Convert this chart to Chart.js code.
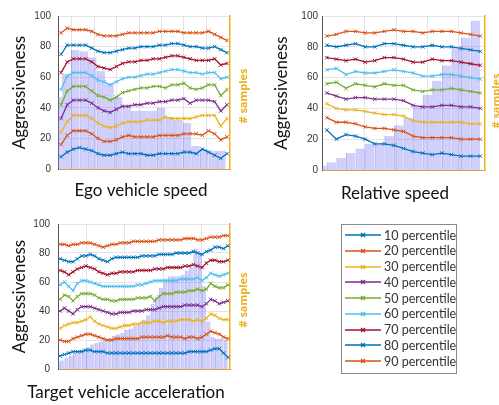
<!DOCTYPE html>
<html>
<head>
<meta charset="utf-8">
<title>Aggressiveness percentiles</title>
<script src="https://cdn.jsdelivr.net/npm/chart.js@4.4.2/dist/chart.umd.min.js"></script>
<style>
    html, body { margin: 0; padding: 0; background: #fff; }
    #page { position: relative; width: 499px; height: 405px; overflow: hidden; }
    #page > canvas { position: absolute; }
    #legend { position: absolute; left: 341px; top: 224px; width: 116px; height: 150px;
              box-sizing: border-box; border: 1px solid #8a8a8a; background: #fff; }
    .item { position: absolute; left: 3px; height: 16px; display: flex; align-items: center;
            font: 12.5px Lato, sans-serif; color: #333; white-space: nowrap; }
    .item canvas { margin-right: 3px; }
</style>
</head>
<body>
<div id="page">
    <canvas id="egoChart" width="250" height="205" style="left:0;top:0"></canvas>
    <canvas id="relChart" width="249" height="205" style="left:250px;top:0"></canvas>
    <canvas id="accChart" width="250" height="195" style="left:0;top:210px"></canvas>
    <div id="legend"></div>
</div>
<script>
// series names + colours (MATLAB default order, wraps after 7)
const seriesNames = ['10 percentile', '20 percentile', '30 percentile', '40 percentile', '50 percentile',
                     '60 percentile', '70 percentile', '80 percentile', '90 percentile'];
const seriesColors = ['#0072BD', '#D95319', '#EDB120', '#7E2F8E', '#77AC30', '#4DBEEE', '#A2142F', '#0072BD', '#D95319'];

// Ego vehicle speed
const egoP10 = [8, 11, 13, 14, 13, 12, 10, 9, 9, 10, 11, 10, 10, 10, 9, 9, 10, 10, 10, 10, 11, 11, 10, 13, 11, 9, 7, 10];
const egoP20 = [16, 22, 25, 25, 25, 23, 20, 18, 18, 19, 21, 22, 21, 21, 21, 21, 22, 22, 22, 22, 23, 23, 23, 22, 25, 23, 19, 21];
const egoP30 = [24, 31, 35, 35, 35, 33, 30, 28, 27, 28, 30, 31, 31, 31, 32, 32, 32, 34, 33, 33, 33, 33, 34, 35, 35, 35, 28, 33];
const egoP40 = [33, 42, 45, 45, 45, 43, 40, 38, 37, 39, 41, 41, 42, 42, 43, 43, 44, 44, 45, 45, 46, 43, 45, 45, 45, 44, 38, 42];
const egoP50 = [42, 51, 54, 54, 54, 51, 48, 47, 45, 47, 50, 51, 52, 53, 53, 54, 54, 53, 55, 55, 56, 53, 52, 53, 55, 55, 48, 52];
const egoP60 = [52, 61, 63, 63, 63, 61, 58, 57, 55, 57, 59, 60, 60, 61, 62, 62, 63, 64, 65, 65, 64, 63, 63, 62, 63, 63, 59, 60];
const egoP70 = [63, 70, 72, 72, 72, 70, 67, 66, 65, 67, 69, 70, 70, 71, 71, 72, 72, 73, 74, 74, 73, 72, 71, 71, 71, 72, 68, 69];
const egoP80 = [75, 81, 81, 81, 81, 79, 77, 76, 76, 77, 78, 79, 79, 80, 80, 80, 81, 81, 82, 82, 81, 80, 80, 79, 79, 80, 78, 76];
const egoP90 = [89, 92, 91, 91, 91, 90, 88, 87, 87, 87, 88, 89, 89, 89, 89, 89, 90, 90, 90, 90, 89, 89, 89, 89, 90, 88, 86, 84];
const egoSamples = [47, 62, 78, 77, 73, 64, 56, 47, 41, 38, 38, 38, 40, 34, 32, 30, 15, 13, 12, 12];

// Relative speed
const relP10 = [26, 20, 23, 22, 20, 17, 17, 16, 14, 12, 11, 10, 11, 10, 9, 9, 9];
const relP20 = [34, 31, 31, 30, 28, 27, 27, 26, 25, 22, 21, 21, 21, 21, 20, 20, 20];
const relP30 = [43, 40, 39, 39, 38, 37, 36, 36, 35, 32, 31, 31, 31, 31, 31, 30, 30];
const relP40 = [50, 48, 46, 47, 47, 46, 46, 46, 45, 42, 41, 41, 42, 42, 41, 41, 40];
const relP50 = [56, 57, 53, 56, 55, 54, 56, 55, 55, 52, 51, 52, 52, 53, 52, 51, 50];
const relP60 = [65, 66, 62, 64, 63, 63, 64, 65, 64, 63, 61, 61, 62, 62, 61, 60, 59];
const relP70 = [73, 72, 71, 72, 70, 71, 73, 73, 72, 70, 70, 72, 71, 71, 70, 69, 68];
const relP80 = [81, 80, 81, 82, 80, 80, 82, 82, 81, 80, 80, 81, 80, 80, 79, 78, 77];
const relP90 = [87, 88, 90, 90, 89, 89, 90, 91, 90, 90, 89, 90, 90, 90, 89, 88, 87];
const relSamples = [3, 5, 8, 11, 14, 17, 17, 22, 29, 34, 41, 49, 58, 68, 79, 86, 97];

// Target vehicle acceleration
const accP10 = [9, 10, 11, 12, 12, 12, 13, 13, 12, 12, 12, 11, 11, 11, 11, 11, 11, 11, 11, 11, 11, 11, 11, 11, 11, 11, 11, 11, 11, 11, 12, 12, 12, 12, 12, 13, 14, 14, 11, 8];
const accP20 = [20, 19, 19, 21, 22, 23, 24, 24, 23, 22, 21, 20, 20, 21, 21, 21, 21, 21, 21, 22, 22, 22, 22, 22, 22, 23, 22, 22, 22, 21, 22, 22, 21, 22, 24, 26, 25, 24, 22, 21];
const accP30 = [28, 30, 31, 32, 32, 33, 34, 36, 33, 31, 30, 29, 28, 28, 29, 30, 30, 31, 31, 32, 32, 32, 33, 33, 32, 33, 33, 33, 34, 34, 34, 33, 34, 33, 35, 38, 37, 35, 34, 34];
const accP40 = [40, 42, 40, 38, 41, 43, 43, 43, 42, 41, 40, 39, 38, 38, 39, 39, 39, 40, 40, 40, 41, 41, 41, 42, 43, 43, 43, 43, 43, 44, 44, 44, 44, 43, 45, 48, 47, 45, 46, 47];
const accP50 = [48, 51, 50, 47, 50, 52, 52, 52, 51, 49, 48, 48, 47, 47, 48, 48, 48, 48, 49, 49, 49, 50, 47, 50, 52, 52, 52, 53, 53, 53, 54, 54, 55, 54, 55, 59, 57, 56, 56, 58];
const accP60 = [58, 60, 57, 54, 59, 61, 61, 60, 59, 58, 57, 57, 57, 57, 57, 57, 57, 57, 58, 58, 59, 60, 61, 61, 61, 61, 61, 61, 62, 62, 62, 62, 63, 61, 63, 66, 65, 64, 65, 66];
const accP70 = [68, 67, 65, 67, 69, 70, 71, 70, 69, 67, 66, 65, 66, 66, 67, 67, 67, 67, 68, 68, 68, 68, 69, 69, 69, 70, 70, 70, 70, 71, 71, 72, 71, 70, 73, 75, 75, 74, 74, 75];
const accP80 = [76, 75, 74, 74, 76, 78, 78, 79, 78, 76, 75, 74, 76, 77, 77, 77, 77, 77, 77, 78, 78, 78, 78, 79, 79, 79, 79, 80, 80, 80, 80, 81, 80, 79, 81, 82, 84, 84, 83, 85];
const accP90 = [86, 86, 85, 86, 86, 87, 87, 87, 86, 85, 84, 85, 86, 86, 87, 87, 87, 88, 88, 88, 88, 88, 88, 89, 89, 89, 89, 89, 89, 90, 90, 90, 89, 89, 90, 91, 91, 91, 92, 92];
const accSamples = [5, 6, 8, 9, 11, 12, 14, 15, 17, 18, 19, 20, 21, 23, 24, 25, 27, 28, 30, 31, 34, 37, 45, 50, 56, 62, 64, 64, 64, 65, 68, 70, 83, 80, 57, 33, 22, 21, 21, 20];

const yTicks = [0, 20, 40, 60, 80, 100];

// bin labels are not shown, they only index the categories
const bins = arr => arr.map((_, i) => String(i + 1));

// plugin: free text (x titles and the "# samples" label that reads upward)
const textLabels = {
    id: 'textLabels',
    afterDraw(chart, args, opts) {
        const ctx = chart.ctx;
        (opts.items || []).forEach(t => {
            ctx.save();
            ctx.translate(t.x, t.y);
            ctx.rotate(t.rotate || 0);
            ctx.font = t.font;
            ctx.fillStyle = t.color;
            ctx.textAlign = 'center';
            ctx.textBaseline = 'middle';
            ctx.fillText(t.text, 0, 0);
            ctx.restore();
        });
    }
};

function makePanel(canvasId, p) {
    const canvas = document.getElementById(canvasId);
    // histogram bars touch each other: one bin = plot width / number of bins
    const binWidth = (canvas.width - p.left - p.right) / p.samples.length;

    const datasets = [{
        type: 'bar',
        label: '# samples',
        data: p.samples,
        xAxisID: 'xb',
        yAxisID: 'y2',
        order: 2,
        backgroundColor: 'rgba(125, 125, 245, 0.36)',
        borderColor: 'rgba(105, 105, 230, 0.5)',
        borderWidth: { left: 1, right: 0, top: 0, bottom: 0 },
        borderSkipped: false,
        inflateAmount: 0,
        barThickness: binWidth
    }];
    p.lines.forEach((vals, k) => {
        datasets.push({
            type: 'line',
            label: seriesNames[k],
            data: vals,
            xAxisID: 'x',
            yAxisID: 'y',
            order: 1,
            borderColor: seriesColors[k],
            backgroundColor: seriesColors[k],
            borderWidth: 1.3,
            pointStyle: 'crossRot',
            pointRadius: 2.5,
            pointBorderWidth: 1,
            fill: false
        });
    });

    return new Chart(canvas, {
        type: 'bar',
        data: { datasets },
        options: {
            responsive: false,
            animation: false,
            devicePixelRatio: 1,
            layout: { padding: { top: p.top, left: 0, right: 0, bottom: 0 } },
            plugins: {
                legend: { display: false },
                tooltip: { enabled: false },
                textLabels: {
                    items: [
                        { text: p.xTitle, x: p.xTitlePos[0], y: p.xTitlePos[1], font: '17px Lato', color: '#111' },
                        { text: '# samples', x: p.samplesPos[0], y: p.samplesPos[1], rotate: -Math.PI / 2,
                          font: 'bold 11px "Open Sans"', color: '#EDB120' }
                    ]
                }
            },
            scales: {
                x: {
                    type: 'category',
                    labels: bins(p.lines[0]),
                    offset: true,
                    position: 'bottom',
                    grid: { display: false },
                    ticks: { display: false },
                    border: { color: '#d9a24a', width: 1 },
                    afterFit: s => { s.height = p.bottom; }
                },
                xb: {
                    type: 'category',
                    labels: bins(p.samples),
                    offset: true,
                    display: false
                },
                g: {
                    type: 'linear',
                    position: 'bottom',
                    min: 0,
                    max: 1,
                    afterBuildTicks: s => { s.ticks = p.gridX.map(v => ({ value: v })); },
                    ticks: { display: false },
                    grid: { color: '#e4e4e4', drawTicks: false },
                    border: { display: false },
                    afterFit: s => { s.height = 0; }
                },
                y: {
                    position: 'left',
                    min: 0,
                    max: 100,
                    afterBuildTicks: s => { s.ticks = yTicks.map(v => ({ value: v })); },
                    ticks: { padding: p.tickPad, color: '#333', font: { family: 'Liberation Sans', size: 10 } },
                    grid: { color: '#e4e4e4', drawTicks: false },
                    border: { color: '#555', width: 1 },
                    title: {
                        display: true,
                        text: 'Aggressiveness',
                        color: '#111',
                        font: { family: 'Lato', size: 17 },
                        padding: { top: p.titlePad, bottom: 0 }
                    },
                    afterFit: s => { s.width = p.left; }
                },
                y2: {
                    position: 'right',
                    min: 0,
                    max: 100,
                    ticks: { display: false },
                    grid: { display: false },
                    border: { color: '#EDB120', width: 1.5 },
                    afterFit: s => { s.width = p.right; }
                }
            }
        },
        plugins: [textLabels]
    });
}

makePanel('egoChart', {
    lines: [egoP10, egoP20, egoP30, egoP40, egoP50, egoP60, egoP70, egoP80, egoP90],
    samples: egoSamples,
    gridX: [0.076, 0.233, 0.39, 0.547, 0.698, 0.855],
    top: 16, left: 58, right: 20, bottom: 36, tickPad: 7, titlePad: 9,
    xTitle: 'Ego vehicle speed', xTitlePos: [141, 191], samplesPos: [244, 96]
});

makePanel('relChart', {
    lines: [relP10, relP20, relP30, relP40, relP50, relP60, relP70, relP80, relP90],
    samples: relSamples,
    gridX: [0.288, 0.577, 0.865],
    top: 16, left: 72, right: 14, bottom: 35, tickPad: 4, titlePad: 21,
    xTitle: 'Relative speed', xTitlePos: [145, 194], samplesPos: [247, 101]
});

makePanel('accChart', {
    lines: [accP10, accP20, accP30, accP40, accP50, accP60, accP70, accP80, accP90],
    samples: accSamples,
    gridX: [0.163, 0.5, 0.837],
    top: 13, left: 58, right: 20, bottom: 36, tickPad: 8, titlePad: 9,
    xTitle: 'Target vehicle acceleration', xTitlePos: [126, 183], samplesPos: [244, 90]
});

// legend box (separate from the charts, like the figure)
const legendBox = document.getElementById('legend');
seriesNames.forEach((name, k) => {
    const row = document.createElement('div');
    row.className = 'item';
    row.style.top = (2 + k * 15.75) + 'px';
    const sample = document.createElement('canvas');
    sample.width = 36;
    sample.height = 10;
    const c = sample.getContext('2d');
    c.strokeStyle = seriesColors[k];
    c.lineWidth = 1.3;
    c.beginPath();
    c.moveTo(0, 5); c.lineTo(36, 5);
    c.moveTo(16, 3); c.lineTo(20, 7);
    c.moveTo(20, 3); c.lineTo(16, 7);
    c.stroke();
    row.appendChild(sample);
    const label = document.createElement('span');
    label.textContent = name;
    row.appendChild(label);
    legendBox.appendChild(row);
});
</script>
</body>
</html>
